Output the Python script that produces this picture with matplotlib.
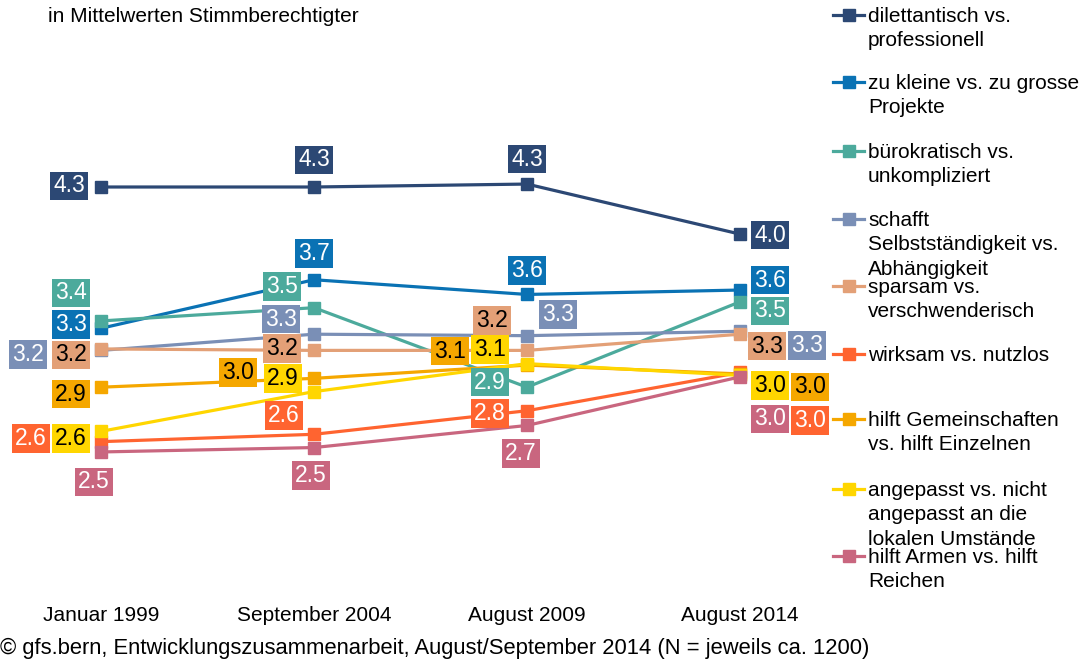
import matplotlib.pyplot as plt

plt.rcParams['font.family'] = ['Liberation Sans', 'DejaVu Sans']

# survey waves
periods = ["Januar 1999", "September 2004", "August 2009", "August 2014"]

# mean values per item
dilettantisch = [4.30, 4.30, 4.32, 3.98]
zu_kleine = [3.34, 3.67, 3.57, 3.60]
buerokratisch = [3.39, 3.48, 2.94, 3.52]
schafft = [3.19, 3.30, 3.29, 3.32]
sparsam = [3.20, 3.19, 3.19, 3.30]
wirksam = [2.57, 2.62, 2.78, 3.04]
gemeinschaften = [2.94, 3.00, 3.09, 3.03]
angepasst = [2.64, 2.91, 3.10, 3.02]
armen = [2.50, 2.53, 2.68, 3.01]

names = [
    "dilettantisch vs.\nprofessionell",
    "zu kleine vs. zu grosse\nProjekte",
    "bürokratisch vs.\nunkompliziert",
    "schafft\nSelbstständigkeit vs.\nAbhängigkeit",
    "sparsam vs.\nverschwenderisch",
    "wirksam vs. nutzlos",
    "hilft Gemeinschaften\nvs. hilft Einzelnen",
    "angepasst vs. nicht\nangepasst an die\nlokalen Umstände",
    "hilft Armen vs. hilft\nReichen",
]
series = [dilettantisch, zu_kleine, buerokratisch, schafft, sparsam,
          wirksam, gemeinschaften, angepasst, armen]
colors = ["#2C4874", "#0A72B4", "#4CAA9C", "#7A8FB6", "#E3A077",
          "#FF6430", "#F5A700", "#FFD600", "#C9667F"]
text_colors = ["white", "white", "white", "white", "black",
               "white", "black", "black", "white"]

# label offsets from the marker, in pixels (dx right, dy down)
offsets = [
    [(-32, -1), (0, -27), (0, -25), (30, 1)],
    [(-30, -4), (0, -26), (0, -24), (30, -10)],
    [(-30, -28), (-32, -21), (-37, -5), (30, 9)],
    [(-73, 4), (-33, -15), (31, -21), (67, 14)],
    [(-30, 6), (-32, -2), (-35, -30), (27, 12)],
    [(-70, -3), (-30, -19), (-37, 3), (70, 48)],
    [(-30, 7), (-76, -6), (-77, -14), (70, 13)],
    [(-30, 7), (-31, -13), (-37, -14), (30, 10)],
    [(-7, 30), (-3, 28), (-6, 28), (30, 42)],
]

fig = plt.figure(figsize=(10.83, 6.62), dpi=100)
ax = fig.add_axes([0, 62 / 662, 820 / 1083, 600 / 662])

x = list(range(len(periods)))
for vals, col in zip(series, colors):
    ax.plot(x, vals, color=col, lw=2.3, marker="s", markersize=9,
            markeredgecolor=col, solid_capstyle="butt")

for vals, col, tc, offs in zip(series, colors, text_colors, offsets):
    for xi, v, (dx, dy) in zip(x, vals, offs):
        ax.annotate(f"{v:.1f}", (xi, v), xytext=(dx * 0.72, -dy * 0.72),
                    textcoords="offset points", ha="center", va="center",
                    fontsize=16.5, color=tc, zorder=5,
                    bbox=dict(boxstyle="square,pad=0.12", fc=col, ec="none"))

ax.set_xlim(-101 / 213, 719 / 213)
ax.set_ylim(4.3 - 413 / 147.2, 4.3 + 187 / 147.2)
ax.set_xticks(x, periods, fontsize=15)
ax.tick_params(axis="x", length=0, pad=4)
ax.set_yticks([])
for s in ax.spines.values():
    s.set_visible(False)

# overlay in pixel coords for title, legend and source
lax = fig.add_axes([0, 0, 1, 1])
lax.set_xlim(0, 1083)
lax.set_ylim(662, 0)
lax.axis("off")

lax.text(48, 17, "in Mittelwerten Stimmberechtigter", fontsize=15,
         va="center", ha="left")

leg_y = [15, 82, 151, 219, 286, 354, 419, 489, 556]
for y, name, col in zip(leg_y, names, colors):
    lax.plot([833, 864], [y, y], color=col, lw=2.3)
    lax.plot([848.5], [y], color=col, marker="s", markersize=9)
    lax.text(868, y - 8, name, fontsize=15, va="top", ha="left",
             linespacing=1.36)

lax.text(0, 648, "© gfs.bern, Entwicklungszusammenarbeit, August/September 2014 "
         "(N = jeweils ca. 1200)", fontsize=15.8, va="center", ha="left")

fig.savefig("out.png", dpi=100)
